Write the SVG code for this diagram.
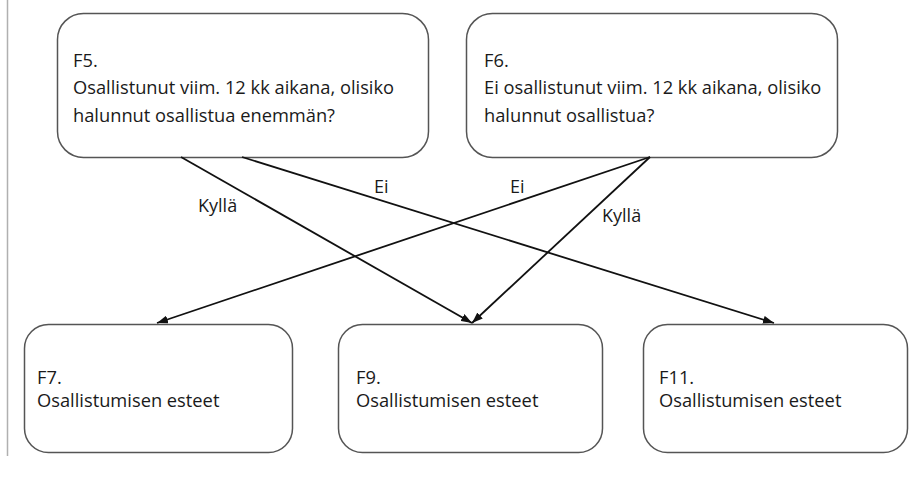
<svg xmlns="http://www.w3.org/2000/svg" width="912" height="493" viewBox="0 0 912 493">
  <defs>
    <marker id="arrow" markerUnits="userSpaceOnUse" markerWidth="12" markerHeight="8" refX="11" refY="4" orient="auto">
      <path d="M0,0 L11,4 L0,8 z" fill="#111"/>
    </marker>
    <style>
      .box { fill: #ffffff; stroke: #555555; stroke-width: 1.5; }
      .txt { font-family: "Open Sans", "Noto Sans", "DejaVu Sans", sans-serif; fill: #1a1a1a; }
      .top { font-size: 18.3px; }
      .bot { font-size: 18.3px; }
      .lbl { font-family: "Open Sans", "Noto Sans", "DejaVu Sans", sans-serif; font-size: 18px; fill: #1a1a1a; }
      .conn { stroke: #111111; stroke-width: 1.8; fill: none; marker-end: url(#arrow); }
    </style>
  </defs>
  <rect x="0" y="0" width="912" height="493" fill="#ffffff"/>
  <line x1="7.5" y1="0" x2="7.5" y2="456" stroke="#b0b0b0" stroke-width="1.5"/>

  <g id="F5">
    <rect class="box" x="57.5" y="13.5" width="371" height="144" rx="26" ry="26"/>
    <text class="txt top" x="73" y="67">F5.</text>
    <text class="txt top" x="73" y="94">Osallistunut viim. 12 kk aikana, olisiko</text>
    <text class="txt top" x="73" y="122">halunnut osallistua enemmän?</text>
  </g>

  <g id="F6">
    <rect class="box" x="466.5" y="13.5" width="371" height="144" rx="26" ry="26"/>
    <text class="txt top" x="484" y="67">F6.</text>
    <text class="txt top" x="484" y="94">Ei osallistunut viim. 12 kk aikana, olisiko</text>
    <text class="txt top" x="484" y="122">halunnut osallistua?</text>
  </g>

  <g id="F7">
    <rect class="box" x="24.5" y="324.5" width="268" height="128" rx="24" ry="24"/>
    <text class="txt bot" x="37" y="384">F7.</text>
    <text class="txt bot" x="37" y="407">Osallistumisen esteet</text>
  </g>

  <g id="F9">
    <rect class="box" x="338.5" y="324.5" width="264" height="128" rx="24" ry="24"/>
    <text class="txt bot" x="356" y="384">F9.</text>
    <text class="txt bot" x="356" y="407">Osallistumisen esteet</text>
  </g>

  <g id="F11">
    <rect class="box" x="643.5" y="324.5" width="264" height="128" rx="24" ry="24"/>
    <text class="txt bot" x="659" y="384">F11.</text>
    <text class="txt bot" x="659" y="407">Osallistumisen esteet</text>
  </g>

  <g id="connectors">
    <line class="conn" x1="181" y1="157" x2="472" y2="323"/>
    <line class="conn" x1="242" y1="157" x2="774" y2="323"/>
    <line class="conn" x1="650" y1="157" x2="157" y2="323"/>
    <line class="conn" x1="650" y1="157" x2="472" y2="323"/>
    <text class="lbl" x="198" y="212">Kyllä</text>
    <text class="lbl" x="374" y="193">Ei</text>
    <text class="lbl" x="510" y="193">Ei</text>
    <text class="lbl" x="602" y="222">Kyllä</text>
  </g>
</svg>
